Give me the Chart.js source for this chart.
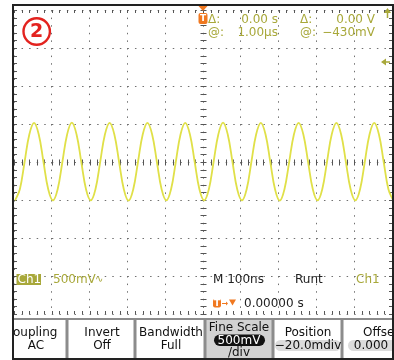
<!DOCTYPE html>
<html>
<head>
<meta charset="utf-8">
<script src="https://cdn.jsdelivr.net/npm/chart.js@4"></script>
<style>
  html, body { margin: 0; padding: 0; background: #fff; }
  canvas { display: block; }
</style>
</head>
<body>
<canvas id="scope" width="394" height="360"></canvas>
<script>
// time axis in ns (M 100ns/div, 10 divs), Ch1 in mV (500mV/div, 8 divs)
const timeNs = [
  -497, -484.5, -472, -459.5, -447, -434.5, -422, -409.5,
  -397, -384.5, -372, -359.5, -347, -334.5, -322, -309.5,
  -297, -284.5, -272, -259.5, -247, -234.5, -222, -209.5,
  -197, -184.5, -172, -159.5, -147, -134.5, -122, -109.5,
  -97, -84.5, -72, -59.5, -47, -34.5, -22, -9.5,
  3, 15.5, 28, 40.5, 53, 65.5, 78, 90.5,
  103, 115.5, 128, 140.5, 153, 165.5, 178, 190.5,
  203, 215.5, 228, 240.5, 253, 265.5, 278, 290.5,
  303, 315.5, 328, 340.5, 353, 365.5, 378, 390.5,
  403, 415.5, 428, 440.5, 453, 465.5, 478, 490.5,
  503
];
const ch1mV = [
  -505, -358, 0, 362, 515, 362, 0, -358,
  -505, -358, 0, 362, 518, 362, 0, -358,
  -505, -358, 0, 362, 515, 362, 0, -358,
  -508, -358, 0, 362, 515, 362, 0, -358,
  -505, -358, 0, 362, 515, 362, 0, -358,
  -505, -358, 0, 362, 518, 362, 0, -358,
  -505, -358, 0, 362, 515, 362, 0, -358,
  -508, -358, 0, 362, 515, 362, 0, -358,
  -505, -358, 0, 362, 515, 362, 0, -358,
  -505, -358, 0, 362, 515, 362, 0, -358,
  -505
];
const xRange = [-500, 500];
const yRange = [-2000, 2000];

const topReadout = [['\u0394:', '0.00 s', '\u0394:', '0.00 V'], ['@:', '1.00\u00b5s', '@:', '\u2212430mV']];
const menuButtons = [
  ['Coupling', 'AC'],
  ['Invert', 'Off'],
  ['Bandwidth', 'Full'],
  ['Fine Scale', '500mV', '/div'],
  ['Position', '\u221220.0mdiv'],
  ['Offset', '0.000']
];

const OLIVE = 'rgb(168,168,58)';
const ORANGE = 'rgb(240,120,32)';
const FONT = '"DejaVu Sans", sans-serif';

function tBox(ctx, x, y, w, h) {
  ctx.fillStyle = ORANGE;
  ctx.beginPath();
  ctx.roundRect(x, y, w, h, 2);
  ctx.fill();
  ctx.fillStyle = '#fff';
  ctx.font = 'bold 9px ' + FONT;
  ctx.textAlign = 'center';
  ctx.textBaseline = 'middle';
  ctx.fillText('T', x + w / 2, y + h / 2 + 0.5);
}

const graticule = {
  id: 'graticule',
  beforeDatasetsDraw(chart) {
    const {ctx, chartArea: a, scales} = chart;
    const xs = scales.x, ys = scales.y;
    const cx = Math.round(xs.getPixelForValue(0)) + 0.5;
    const cy = Math.round(ys.getPixelForValue(0)) + 0.5;
    ctx.save();
    ctx.strokeStyle = '#555';
    ctx.lineWidth = 1;
    ctx.beginPath();
    // minor ticks on center lines and edges, 5 per division
    for (let t = xRange[0]; t <= xRange[1]; t += 20) {
      const px = Math.round(xs.getPixelForValue(t)) + 0.5;
      ctx.moveTo(px, cy - 3); ctx.lineTo(px, cy + 3);
      ctx.moveTo(px, a.top); ctx.lineTo(px, a.top + 3);
      ctx.moveTo(px, a.bottom); ctx.lineTo(px, a.bottom - 3);
    }
    for (let v = yRange[0]; v <= yRange[1]; v += 100) {
      const py = Math.round(ys.getPixelForValue(v)) + 0.5;
      ctx.moveTo(cx - 3, py); ctx.lineTo(cx + 3, py);
      ctx.moveTo(a.left, py); ctx.lineTo(a.left + 3, py);
      ctx.moveTo(a.right, py); ctx.lineTo(a.right - 3, py);
    }
    ctx.stroke();
    ctx.restore();
  },
  afterDraw(chart) {
    const {ctx, chartArea: a, scales} = chart;
    const cx = scales.x.getPixelForValue(0);
    ctx.save();

    // outer frame
    ctx.strokeStyle = '#222';
    ctx.lineWidth = 2;
    ctx.strokeRect(13, 5, 380, 354);

    // circled 2
    ctx.strokeStyle = '#e3231f';
    ctx.lineWidth = 2.4;
    ctx.beginPath();
    ctx.arc(36.7, 31.5, 13.2, 0, Math.PI * 2);
    ctx.stroke();
    ctx.fillStyle = '#e3231f';
    ctx.font = 'bold 19px ' + FONT;
    ctx.textAlign = 'center';
    ctx.textBaseline = 'middle';
    ctx.fillText('2', 36.7, 32.5);

    // trigger position marker at top
    ctx.fillStyle = ORANGE;
    ctx.beginPath();
    ctx.moveTo(cx - 4.5, 6); ctx.lineTo(cx + 4.5, 6); ctx.lineTo(cx, 11);
    ctx.closePath();
    ctx.fill();
    tBox(ctx, cx - 4.5, 13, 9, 11);

    // cursor readouts
    ctx.fillStyle = OLIVE;
    ctx.font = '12px ' + FONT;
    ctx.textBaseline = 'middle';
    topReadout.forEach((row, i) => {
      const y = 20 + i * 12.5;
      ctx.textAlign = 'left';
      ctx.fillText(row[0], 208, y);
      ctx.fillText(row[2], 300, y);
      ctx.textAlign = 'right';
      ctx.fillText(row[1], 278, y);
      ctx.fillText(row[3], 375, y);
    });

    // level arrows on the right
    ctx.fillStyle = OLIVE;
    ctx.strokeStyle = OLIVE;
    ctx.lineWidth = 1.5;
    ctx.beginPath();
    ctx.moveTo(387.5, 12); ctx.lineTo(387.5, 18);
    ctx.moveTo(385, 62); ctx.lineTo(390, 62);
    ctx.stroke();
    ctx.beginPath();
    ctx.moveTo(384, 13); ctx.lineTo(391, 13); ctx.lineTo(387.5, 8);
    ctx.closePath();
    ctx.moveTo(386, 58.5); ctx.lineTo(386, 65.5); ctx.lineTo(381, 62);
    ctx.closePath();
    ctx.fill();

    // channel / timebase readouts
    ctx.fillStyle = OLIVE;
    ctx.fillRect(16.5, 274, 24.5, 11);
    ctx.font = '12px ' + FONT;
    ctx.textAlign = 'left';
    ctx.textBaseline = 'middle';
    ctx.fillStyle = '#fff';
    ctx.fillText('Ch1', 17.5, 280);
    ctx.fillStyle = OLIVE;
    ctx.fillText('500mV', 53, 280);
    ctx.font = '10px ' + FONT;
    ctx.fillText('\u223f', 95, 279);
    ctx.font = '12px ' + FONT;
    ctx.fillText('Ch1', 356, 280);
    ctx.fillStyle = '#222';
    ctx.fillText('M 100ns', 213, 280);
    ctx.fillText('Runt', 295, 280);
    ctx.fillText('0.00000 s', 244, 303.5);

    // trigger time marker
    tBox(ctx, 213, 299, 8, 8.5);
    ctx.strokeStyle = ORANGE;
    ctx.fillStyle = ORANGE;
    ctx.lineWidth = 1;
    ctx.beginPath();
    ctx.moveTo(222, 303.5); ctx.lineTo(226, 303.5);
    ctx.stroke();
    ctx.beginPath();
    ctx.moveTo(226, 301.5); ctx.lineTo(228, 303.5); ctx.lineTo(226, 305.5);
    ctx.closePath();
    ctx.moveTo(229, 299.5); ctx.lineTo(236, 299.5); ctx.lineTo(232.5, 305.5);
    ctx.closePath();
    ctx.fill();

    // side menu at the bottom
    ctx.save();
    ctx.beginPath();
    ctx.rect(14, 318, 378, 40);
    ctx.clip();
    ctx.fillStyle = '#d2d2d2';
    ctx.fillRect(205, 318, 68, 40);
    ctx.strokeStyle = '#8c8c8c';
    ctx.lineWidth = 2;
    ctx.beginPath();
    ctx.moveTo(14, 319); ctx.lineTo(392, 319);
    ctx.stroke();
    ctx.lineWidth = 3;
    ctx.beginPath();
    [67, 135, 205, 273, 342].forEach(x => { ctx.moveTo(x, 318); ctx.lineTo(x, 358); });
    ctx.stroke();

    // value pills
    ctx.fillStyle = '#111';
    ctx.beginPath(); ctx.roundRect(214, 334.5, 51, 11.5, 5.75); ctx.fill();
    ctx.fillStyle = '#dcdcdc';
    ctx.beginPath(); ctx.roundRect(275, 340, 66, 11, 5.5); ctx.fill();
    ctx.beginPath(); ctx.roundRect(348, 340, 50, 11, 5.5); ctx.fill();

    ctx.font = '12px ' + FONT;
    ctx.textAlign = 'center';
    ctx.textBaseline = 'middle';
    const centers = [31, 102, 171, 239, 308, 381];
    menuButtons.forEach((b, i) => {
      const x = centers[i];
      ctx.fillStyle = '#111';
      if (b.length === 3) {
        ctx.fillText(b[0], x, 328);
        ctx.fillStyle = '#fff';
        ctx.fillText(b[1], x, 340.5);
        ctx.fillStyle = '#111';
        ctx.fillText(b[2], x, 352.5);
      } else {
        ctx.fillText(b[0], x, 333);
        ctx.fillText(b[1], i === 5 ? 371 : (i === 0 ? 36 : x), 345.5);
      }
    });
    ctx.restore();
    ctx.restore();
  }
};

const ctx = document.getElementById('scope').getContext('2d');
const scopeChart = new Chart(ctx, {
  type: 'line',
  data: {
    datasets: [{
      label: 'Ch1',
      data: timeNs.map((t, i) => ({x: t, y: ch1mV[i]})),
      borderColor: 'rgb(224,224,72)',
      borderWidth: 1.8,
      pointRadius: 0,
      tension: 0.4,
      fill: false
    }]
  },
  options: {
    responsive: false,
    animation: false,
    events: [],
    layout: { padding: { left: 14, right: 2, top: 10, bottom: 46 } },
    plugins: { legend: { display: false }, tooltip: { enabled: false } },
    scales: {
      x: {
        type: 'linear',
        min: xRange[0], max: xRange[1],
        ticks: { display: false, stepSize: 100 },
        grid: { color: '#707070', lineWidth: 1, drawTicks: false },
        border: { display: false, dash: [1.5, 6.1] }
      },
      y: {
        type: 'linear',
        min: yRange[0], max: yRange[1],
        ticks: { display: false, stepSize: 500 },
        grid: { color: '#707070', lineWidth: 1, drawTicks: false },
        border: { display: false, dash: [1.5, 6.06] }
      }
    }
  },
  plugins: [graticule]
});
</script>
</body>
</html>
